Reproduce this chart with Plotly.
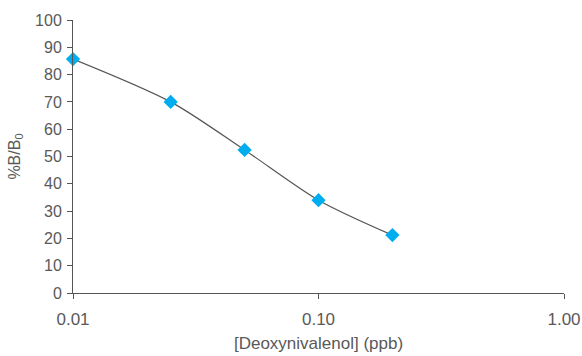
import plotly.graph_objects as go

conc = [0.01, 0.025, 0.05, 0.1, 0.2]
pct_b_b0 = [85.7, 70.0, 52.4, 34.0, 21.2]
x_tickvals = [0.01, 0.1, 1.0]
x_ticktext = ["0.01", "0.10", "1.00"]
y_tickvals = list(range(0, 101, 10))

axis_color = "#555555"
text_color = "#595959"
family = "Liberation Sans, Arial, Helvetica, sans-serif"

fig = go.Figure()
fig.add_trace(go.Scatter(
    x=conc, y=pct_b_b0, mode="lines",
    line=dict(color="#555555", width=1.2, shape="spline", smoothing=0.8),
    hoverinfo="skip", showlegend=False, cliponaxis=False,
))
fig.add_trace(go.Scatter(
    x=conc, y=pct_b_b0, mode="markers",
    marker=dict(symbol="diamond", size=11, color="#00AEEF"),
    showlegend=False, cliponaxis=False,
))

fig.update_layout(
    width=582, height=356,
    margin=dict(l=73, r=18, t=20, b=63),
    paper_bgcolor="white", plot_bgcolor="white",
    font=dict(family=family, size=15, color=text_color),
    xaxis=dict(
        type="log", range=[-2, 0], automargin=False,
        tickvals=x_tickvals, ticktext=x_ticktext,
        tickfont=dict(size=17), ticklabelstandoff=6,
        ticks="outside", ticklen=5, tickcolor=axis_color,
        showline=True, linecolor=axis_color, linewidth=1,
        showgrid=False, zeroline=False,
        title=dict(text="[Deoxynivalenol] (ppb)", standoff=8, font=dict(size=17)),
    ),
    yaxis=dict(
        range=[0, 100], tickvals=y_tickvals, automargin=False,
        tickfont=dict(size=16), ticklabelstandoff=2,
        ticks="outside", ticklen=5, tickcolor=axis_color,
        showline=True, linecolor=axis_color, linewidth=1,
        showgrid=False, zeroline=False,
        title=dict(text="%B/B<sub>0</sub>", standoff=10, font=dict(size=16)),
    ),
)

fig.write_html(
    "out.html",
    config={"displayModeBar": False},
    post_script="document.body.style.margin='0';document.body.style.padding='0';",
)
